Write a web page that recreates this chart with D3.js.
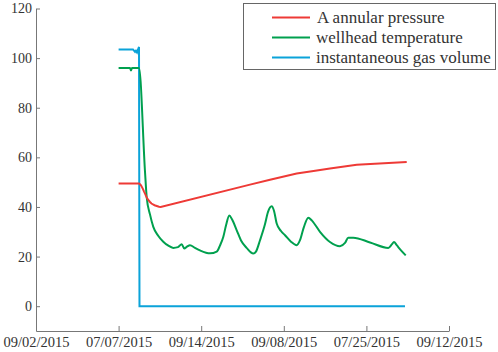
<!DOCTYPE html>
<html>
<head>
<meta charset="utf-8">
<script src="https://cdn.jsdelivr.net/npm/d3@7"></script>
</head>
<body style="margin:0">
<script>
var width = 498;
var height = 352;
var serif = "Liberation Serif";

// x labels (categorical date ticks, as printed)
var xTickLabels = ["09/02/2015", "07/07/2015", "09/14/2015", "09/08/2015", "07/25/2015", "09/12/2015"];
var yTicks = [0, 20, 40, 60, 80, 100, 120];
var seriesNames = ["A annular pressure", "wellhead temperature", "instantaneous gas volume"];
var seriesColors = ["#ee3a36", "#00a04e", "#0ba3d9"];

// x positions in tick units
var pressureX = [1.0, 1.247, 1.259, 1.271, 1.283, 1.295, 1.307, 1.32, 1.332, 1.344, 1.362, 1.38, 1.398, 1.417, 1.435, 1.453, 1.471, 1.489, 1.51,
  2.591, 2.833, 3.156, 3.36, 3.559, 3.883, 4.488];
var pressureY = [49.5, 49.5, 49.2, 48.7, 48, 47.2, 46.3, 45.4, 44.5, 43.6, 42.7, 42, 41.4, 41, 40.7, 40.5, 40.3, 40.1, 40,
  49, 51, 53.5, 54.5, 55.5, 57, 58.1];

var tempX = [1.0, 1.138, 1.15, 1.162, 1.247, 1.32, 1.34, 1.38, 1.42, 1.477, 1.541, 1.598, 1.662, 1.719, 1.764,
  1.795, 1.828, 1.864, 1.925, 1.985, 2.107, 2.188, 2.228, 2.268, 2.3, 2.34, 2.373, 2.43, 2.482, 2.55,
  2.63, 2.663, 2.712, 2.772, 2.809, 2.853, 2.881, 2.914, 2.966, 3.015, 3.087, 3.156, 3.196, 3.244, 3.296,
  3.341, 3.438, 3.559, 3.68, 3.741, 3.781, 3.841, 4.044, 4.265, 4.31, 4.334, 4.367, 4.419, 4.476];
var tempY = [96, 96, 95, 96, 96, 54, 44, 37, 32, 28.5, 26, 24.5, 23.5, 23.8, 25,
  23.3, 24, 24.6, 23.5, 22.5, 21.3, 22, 24.5, 28, 32.5, 36.6, 35, 30.6, 26.5, 23.5,
  21.2, 22, 26.6, 33, 38, 40.3, 38.5, 33.3, 30.3, 28.6, 26, 24.6, 26.6, 32, 35.7,
  34.5, 30, 25.9, 24.2, 25.5, 27.6, 27.6, 25.7, 23.5, 25, 25.9, 24.6, 22.5, 20.5];

var gasX = [1.0, 1.174, 1.199, 1.21, 1.223, 1.247, 1.253, 4.467];
var gasY = [103.5, 103.5, 102.5, 103, 102.3, 104.5, 0, 0];

var margin = {left: 36, right: 49, top: 8, bottom: 21};

var svg = d3.select("body").append("svg")
  .attr("width", width)
  .attr("height", height)
  .attr("font-family", serif)
  .style("font-family", "'" + serif + "'");

var x = d3.scaleLinear().domain([0, 5]).range([margin.left, width - margin.right]);
var y = d3.scaleLinear().domain([-10, 120]).range([height - margin.bottom, margin.top + 0.5]);

// axes
var xAxis = d3.axisBottom(x)
  .tickValues(d3.range(xTickLabels.length))
  .tickFormat(function (d, i) { return xTickLabels[i]; })
  .tickSizeInner(-5).tickSizeOuter(0).tickPadding(5.5);
var gx = svg.append("g")
  .attr("transform", "translate(0," + y(-10) + ")")
  .call(xAxis);

var yAxis = d3.axisLeft(y)
  .tickValues(yTicks)
  .tickSizeInner(-4).tickSizeOuter(0).tickPadding(4);
var gy = svg.append("g")
  .attr("transform", "translate(" + x(0) + ",0)")
  .call(yAxis);

[gx, gy].forEach(function (g) {
  g.attr("font-family", serif);
  g.selectAll("path").attr("stroke", "#777");
  g.selectAll("line").attr("stroke", "#777");
  g.selectAll("text")
    .attr("font-family", serif)
    .style("font-family", "'" + serif + "'")
    .attr("fill", "#333");
});
gx.selectAll("text").attr("font-size", 14.5);
gy.selectAll("text").attr("font-size", 14);

function drawSeries(xs, ys, color, curve) {
  var pts = xs.map(function (d, i) { return [d, ys[i]]; });
  var line = d3.line()
    .x(function (d) { return x(d[0]); })
    .y(function (d) { return y(d[1]); })
    .curve(curve);
  svg.append("path")
    .datum(pts)
    .attr("d", line)
    .attr("fill", "none")
    .attr("stroke", color)
    .attr("stroke-width", 2);
}

drawSeries(gasX, gasY, seriesColors[2], d3.curveLinear);
drawSeries(tempX, tempY, seriesColors[1], d3.curveMonotoneX);
drawSeries(pressureX, pressureY, seriesColors[0], d3.curveLinear);

// legend
var legend = svg.append("g");
legend.append("rect")
  .attr("x", 243.5).attr("y", 3.5)
  .attr("width", 252).attr("height", 66)
  .attr("fill", "#fff")
  .attr("stroke", "#666");

seriesNames.forEach(function (name, i) {
  var ly = 17.5 + i * 20;
  legend.append("line")
    .attr("x1", 272).attr("x2", 310)
    .attr("y1", ly).attr("y2", ly)
    .attr("stroke", seriesColors[i])
    .attr("stroke-width", 2);
  legend.append("text")
    .attr("x", i == 0 ? 317 : 316)
    .attr("y", ly)
    .attr("dy", "0.32em")
    .attr("font-size", 17)
    .attr("font-family", serif)
    .style("font-family", "'" + serif + "'")
    .attr("fill", "#333")
    .text(name);
});
</script>
</body>
</html>
